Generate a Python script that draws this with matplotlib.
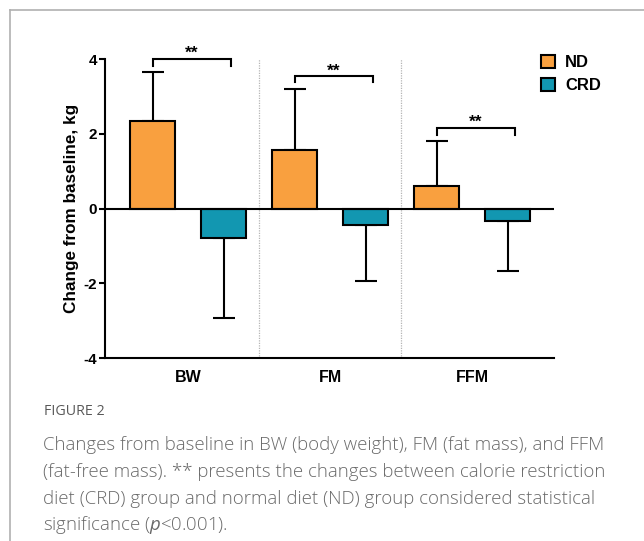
import matplotlib
matplotlib.use("Agg")
import matplotlib.pyplot as plt
import numpy as np
from matplotlib.patches import Patch
from matplotlib.lines import Line2D

# ---- data ----
categories = ["BW", "FM", "FFM"]
series_names = ["ND", "CRD"]
nd_mean = [2.36, 1.58, 0.62]
nd_sd = [1.31, 1.62, 1.20]          # upper error extent
crd_mean = [-0.79, -0.44, -0.34]
crd_sd = [2.15, 1.51, 1.33]         # lower error extent
sig_labels = ["**", "**", "**"]
bracket_y = [4.0, 3.54, 2.15]
bracket_drop = [0.18, 0.16, 0.17]
yticks = [-4, -2, 0, 2, 4]
ylabel = "Change from baseline, kg"
fig_label = "FIGURE 2"
caption_lines = [
    "Changes from baseline in BW (body weight), FM (fat mass), and FFM",
    "(fat-free mass). ** presents the changes between calorie restriction",
    "diet (CRD) group and normal diet (ND) group considered statistical",
    r"significance ($\it{p}$<0.001).",
]

# ---- style ----
ORANGE = "#F9A03F"
TEAL = "#1297B1"
LW = 1.5
plt.rcParams["font.family"] = ["Liberation Sans", "DejaVu Sans"]
plt.rcParams["mathtext.fontset"] = "custom"
plt.rcParams["mathtext.rm"] = "Open Sans"
plt.rcParams["mathtext.it"] = "Open Sans:italic"

fig = plt.figure(figsize=(6.44, 5.41), dpi=100)
W, H = 644, 541

# outer frame (top + left gray lines)
fig.add_artist(Line2D([10 / W, 1.0], [1 - 10 / H, 1 - 10 / H], color="#b0b0b0", lw=1.2))
fig.add_artist(Line2D([10 / W, 10 / W], [0.0, 1 - 10 / H], color="#b0b0b0", lw=1.2))

ax = fig.add_axes([105 / W, 183 / H, (554 - 105) / W, (358 - 59.3) / H])

x = np.arange(len(categories))
off = 0.25
bw = 0.317

ax.bar(x - off, nd_mean, bw, color=ORANGE, edgecolor="black", linewidth=LW, zorder=3)
ax.bar(x + off, crd_mean, bw, color=TEAL, edgecolor="black", linewidth=LW, zorder=3)

ax.errorbar(x - off, nd_mean, yerr=[np.zeros(3), nd_sd], fmt="none", ecolor="black",
            elinewidth=LW, capsize=7.9, capthick=LW, zorder=2)
ax.errorbar(x + off, crd_mean, yerr=[crd_sd, np.zeros(3)], fmt="none", ecolor="black",
            elinewidth=LW, capsize=7.9, capthick=LW, zorder=2)

ax.axhline(0, color="black", lw=LW, zorder=4)

# group separators
for s in [0.5, 1.5]:
    ax.plot([s, s], [-3.95, 4], color="#b5b5b5", lw=0.9, ls=(0, (1, 1)), zorder=1)

# significance brackets
for i in range(len(categories)):
    x0, x1 = x[i] - off, x[i] + off + 0.05
    y, d = bracket_y[i], bracket_drop[i]
    ax.plot([x0, x0, x1, x1], [y - d, y, y, y - d], color="black", lw=LW,
            clip_on=False, solid_joinstyle="miter", zorder=5)
    ax.text((x0 + x1) / 2, y + 0.03, sig_labels[i], ha="center", va="baseline",
            fontsize=12.5, fontweight="bold", clip_on=False)

ax.set_xlim(-0.585, 2.577)
ax.set_ylim(-4, 4)
ax.set_yticks(yticks)
ax.set_yticklabels([str(t) for t in yticks], fontsize=11, fontweight="bold")
ax.set_xticks(x)
ax.set_xticklabels(categories, fontsize=11.5, fontweight="bold")
ax.tick_params(axis="x", length=0, pad=9)
ax.tick_params(axis="y", length=4.5, width=LW, pad=1)
for sp in ["top", "right"]:
    ax.spines[sp].set_visible(False)
for sp in ["left", "bottom"]:
    ax.spines[sp].set_linewidth(LW)
ax.set_ylabel(ylabel, fontsize=12.3, fontweight="bold")
ax.yaxis.set_label_coords(-0.058, 0.5)

handles = [Patch(facecolor=ORANGE, edgecolor="black", linewidth=LW),
           Patch(facecolor=TEAL, edgecolor="black", linewidth=LW)]
leg = ax.legend(handles, series_names, loc="upper left", bbox_to_anchor=(541 / W, 1 - 55 / H),
                bbox_transform=fig.transFigure, frameon=False, handlelength=0.85,
                handleheight=0.85, handletextpad=0.6, labelspacing=0.45,
                borderpad=0, borderaxespad=0, prop={"size": 12, "weight": "bold"})

# caption
fig.text(44 / W, 1 - 415 / H, fig_label, fontsize=10.3, color="#595959",
         family="Open Sans", fontweight="normal", va="baseline", ha="left")
baselines = [450.5, 477.2, 503.9, 530.5]
for k, line in enumerate(caption_lines):
    fig.text(43 / W, 1 - baselines[k] / H, line, fontsize=13.4, color="#6a6a6a",
             family="Open Sans", fontweight="light", va="baseline", ha="left")

fig.savefig("out.png", dpi=100)
